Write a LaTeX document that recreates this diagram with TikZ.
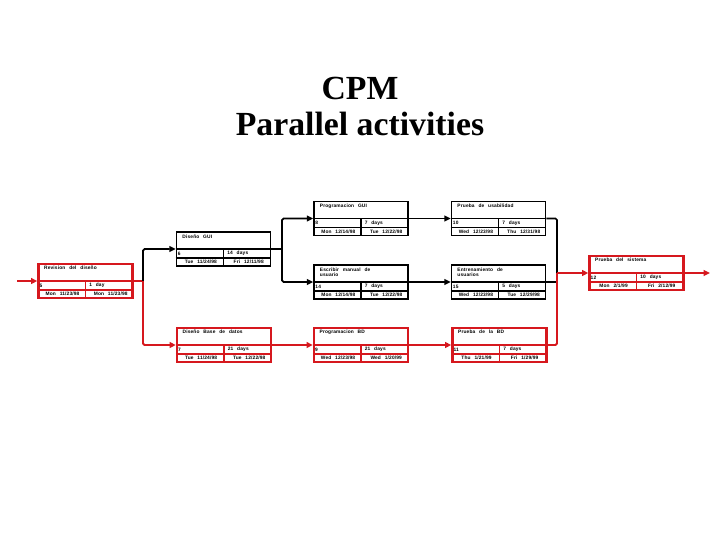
\documentclass[tikz,border=0pt]{standalone}
\usepackage{fontspec}
\newfontfamily\titlefont{Liberation Serif}
\newfontfamily\boxfont{Liberation Sans}[WordSpace=2.6,LetterSpace=3]
\usepackage{tikz}
\usetikzlibrary{calc,positioning,arrows.meta}
\definecolor{cpmred}{RGB}{214,24,30}

% one activity box: name, position, kind (task/crit), label, id, duration, start, finish
\newcommand{\activity}[8]{%
  \node[#3box] (#1) at (#2) {};
  \draw[#3inner] (#1.west) -- (#1.east);
  \draw[#3inner] ($(#1.west)+(0,-0.3)$) -- ($(#1.east)+(0,-0.3)$);
  \draw[#3inner] (#1.center) -- (#1.south);
  \node[boxtext,anchor=north west,align=left] (#1-name) at ($(#1.north west)+(0.22,-0.11)$) {#4};
  \node[boxtext,anchor=west] (#1-id) at ($(#1.west)+(0.07,-0.15)$) {#5};
  \node[boxtext,anchor=west] (#1-dur) at ($(#1.center)+(0.12,-0.15)$) {#6};
  \node[boxtext] (#1-start) at ($(#1.west)+(0.84,-0.435)$) {#7};
  \node[boxtext] (#1-end) at ($(#1.center)+(0.84,-0.435)$) {#8};
}

\begin{document}
\begin{tikzpicture}[>={Triangle[length=6pt,width=5.5pt]},
  taskbox/.style={rectangle,draw,line width=1.7pt,minimum width=3.13cm,minimum height=1.13cm,inner sep=0pt},
  critbox/.style={taskbox,draw=cpmred,line width=2.3pt},
  taskinner/.style={line width=1.2pt},
  critinner/.style={cpmred,line width=1.6pt},
  boxtext/.style={font=\boxfont\bfseries\fontsize{4.6}{5.4}\selectfont,inner sep=0pt},
  tline/.style={line width=1.6pt,rounded corners=1.5pt},
  cline/.style={tline,cpmred,line width=1.8pt}]
\useasboundingbox (0,0) rectangle (24,18);
% title
\node[font=\titlefont\bfseries\fontsize{32}{35}\selectfont,align=center] (title) at (12,14.45) {CPM\\Parallel activities};
% activities
\activity{rev}{2.85,8.633}{crit}{Revision del diseño}{5}{1 day}{Mon 11/23/98}{Mon 11/23/98}
\activity{dgui}{7.45,9.7}{task}{Diseño GUI}{6}{14 days}{Tue 11/24/98}{Fri 12/11/98}
\activity{dbd}{7.467,6.5}{crit}{Diseño Base de datos}{7}{21 days}{Tue 11/24/98}{Tue 12/22/98}
\activity{pgui}{12.033,10.717}{task}{Programacion GUI}{8}{7 days}{Mon 12/14/98}{Tue 12/22/98}
\activity{pusab}{16.617,10.717}{task}{Prueba de usabilidad}{10}{7 days}{Wed 12/23/98}{Thu 12/31/98}
\activity{escr}{12.033,8.6}{task}{Escribir manual de\\usuario}{14}{7 days}{Mon 12/14/98}{Tue 12/22/98}
\activity{entr}{16.617,8.6}{task}{Entrenamiento de\\usuarios}{15}{5 days}{Wed 12/23/98}{Tue 12/29/98}
\activity{pbd}{12.033,6.5}{crit}{Programacion BD}{9}{21 days}{Wed 12/23/98}{Wed 1/20/99}
\activity{prbd}{16.65,6.5}{crit}{Prueba de la BD}{11}{7 days}{Thu 1/21/99}{Fri 1/29/99}
\activity{psis}{21.217,8.9}{crit}{Prueba del sistema}{12}{10 days}{Mon 2/1/99}{Fri 2/12/99}
% junctions and free ends
\coordinate (in) at (0.567,8.633);
\coordinate (out) at (23.667,8.9);
\coordinate (j1) at (4.767,8.633);
\coordinate (j2) at (9.4,9.7);
\coordinate (j3) at (18.567,8.9);
% connectors
\draw[cline,->] (in) -- (rev);
\draw[cline] (rev) -- (j1);
\draw[tline,->] (j1) |- (dgui);
\draw[cline,->] (j1) |- (dbd);
\draw[tline] (dgui) -- (j2);
\draw[tline,->] (j2) |- (pgui);
\draw[tline,->] (j2) |- (escr);
\draw[tline,->] (pgui) -- (pusab);
\draw[tline,->] (escr) -- (entr);
\draw[tline] (pusab) -| (j3);
\draw[tline] (entr) -- (entr -| j3);
\draw[cline,->] (dbd) -- (pbd);
\draw[cline,->] (pbd) -- (prbd);
\draw[cline] (prbd) -| (j3);
\draw[cline,->] (j3) -- (psis);
\draw[cline,->] (psis) -- (out);
\end{tikzpicture}
\end{document}
